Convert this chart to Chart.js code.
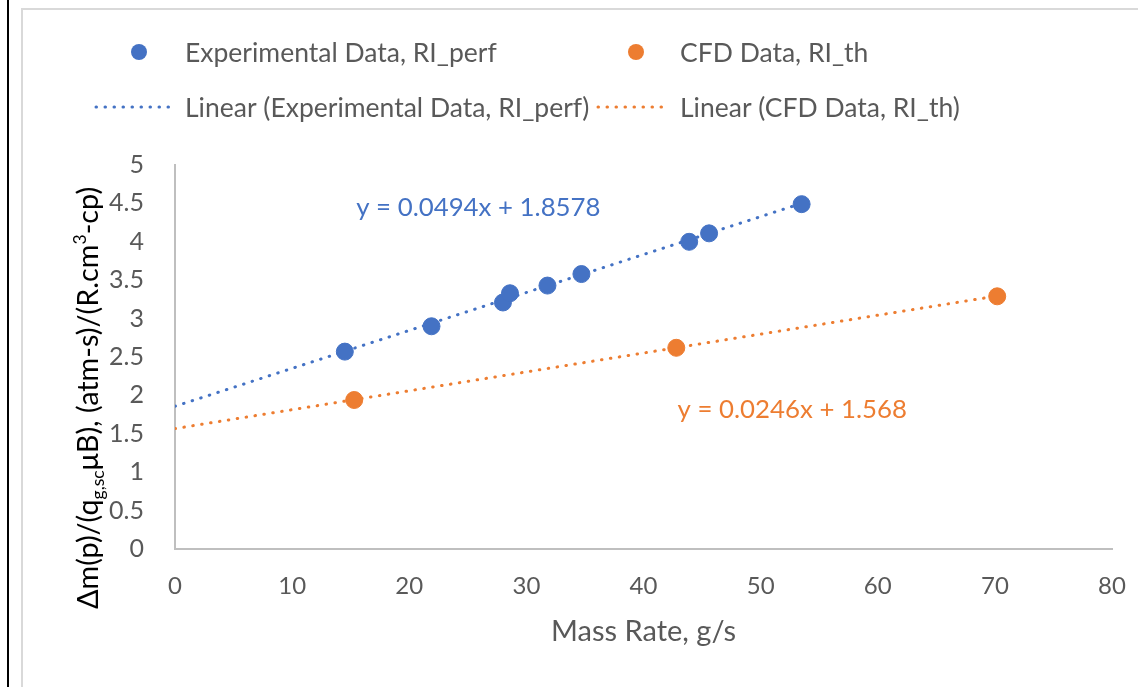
<!DOCTYPE html>
<html>
  <head>
    <title>Mass Rate chart</title>
    <script src="https://cdn.jsdelivr.net/npm/chart.js"></script>
    <style>
      body {
        margin: 0;
        background: #ffffff;
      }
      #wrap {
        position: relative;
        width: 1138px;
        height: 687px;
      }
      /* outer frame lines */
      .frame-black {
        position: absolute;
        left: 7px;
        top: 0;
        width: 2px;
        height: 687px;
        background: #000;
      }
      .frame-gray-v {
        position: absolute;
        left: 21px;
        top: 8px;
        width: 2px;
        height: 679px;
        background: #d9d9d9;
      }
      .frame-gray-h {
        position: absolute;
        left: 21px;
        top: 8px;
        width: 1117px;
        height: 2px;
        background: #d9d9d9;
      }
      canvas {
        position: absolute;
        left: 0;
        top: 0;
      }
    </style>
  </head>
  <body>
    <div id="wrap">
      <canvas id="massChart" width="1138" height="687"></canvas>
      <div class="frame-black"></div>
      <div class="frame-gray-v"></div>
      <div class="frame-gray-h"></div>
    </div>
    <script>
      // data
      var expX = [14.5, 21.9, 28.0, 28.6, 31.8, 34.7, 43.9, 45.6, 53.5];
      var expY = [2.57, 2.90, 3.21, 3.33, 3.43, 3.58, 4.00, 4.11, 4.49];
      var cfdX = [15.3, 42.8, 70.2];
      var cfdY = [1.94, 2.62, 3.29];
      // trendline end points (Excel linear fits)
      var expTrendX = [0, 53.5];
      var expTrendY = [1.858, 4.501];
      var cfdTrendX = [0, 70.2];
      var cfdTrendY = [1.568, 3.295];
      var seriesNames = ['Experimental Data, RI_perf', 'CFD Data, RI_th',
        'Linear (Experimental Data, RI_perf)', 'Linear (CFD Data, RI_th)'];
      var equations = ['y = 0.0494x + 1.8578', 'y = 0.0246x + 1.568'];
      var xTicks = [0, 10, 20, 30, 40, 50, 60, 70, 80];
      var yTicks = [0, 0.5, 1, 1.5, 2, 2.5, 3, 3.5, 4, 4.5, 5];

      var BLUE = '#4472C4', ORANGE = '#ED7D31', TEXT = '#595959';
      var FONT = 'Lato';

      function pairs(xs, ys) {
        return xs.map(function(x, i) { return {x: x, y: ys[i]}; });
      }

      function dottedLine(ctx, x1, y1, x2, y2, color) {
        ctx.save();
        ctx.strokeStyle = color;
        ctx.lineWidth = 3;
        ctx.lineCap = 'round';
        ctx.setLineDash([0.5, 8.5]);
        ctx.beginPath();
        ctx.moveTo(x1, y1);
        ctx.lineTo(x2, y2);
        ctx.stroke();
        ctx.restore();
      }

      // legend, equations and y title drawn by hand
      var extras = {
        id: 'extras',
        afterDraw: function(chart) {
          var ctx = chart.ctx;
          var xs = chart.scales.x, ys = chart.scales.y;
          ctx.save();
          ctx.font = '26.5px ' + FONT;
          ctx.textBaseline = 'middle';
          ctx.textAlign = 'left';
          // row 1: markers
          ctx.fillStyle = BLUE;
          ctx.beginPath(); ctx.arc(139, 52, 8, 0, Math.PI * 2); ctx.fill();
          ctx.fillStyle = ORANGE;
          ctx.beginPath(); ctx.arc(636, 52, 8, 0, Math.PI * 2); ctx.fill();
          ctx.fillStyle = TEXT;
          ctx.fillText(seriesNames[0], 185, 53);
          ctx.fillText(seriesNames[1], 680, 53);
          // row 2: trendlines
          dottedLine(ctx, 96, 107, 172, 107, BLUE);
          dottedLine(ctx, 598, 107, 668, 107, ORANGE);
          ctx.fillText(seriesNames[2], 185, 108);
          ctx.fillText(seriesNames[3], 680, 108);

          // trendline equations
          ctx.font = '25.8px ' + FONT;
          ctx.textAlign = 'center';
          ctx.fillStyle = BLUE;
          ctx.fillText(equations[0], xs.getPixelForValue(25.9), ys.getPixelForValue(4.44));
          ctx.fillStyle = ORANGE;
          ctx.fillText(equations[1], xs.getPixelForValue(52.7), ys.getPixelForValue(1.81));

          // y axis title with sub and superscript
          var parts = [
            ['Δm(p)/(q', 0], ['g,sc', 1], ['μB), (atm-s)/(R.cm', 0], ['3', -1], ['-cp)', 0]
          ];
          var big = '28.8px ' + FONT, small = '17.5px ' + FONT;
          var total = 0;
          parts.forEach(function(p) {
            ctx.font = p[1] !== 0 ? small : big;
            total += ctx.measureText(p[0]).width;
          });
          ctx.translate(89, 398);
          ctx.rotate(-Math.PI / 2);
          ctx.fillStyle = '#000';
          ctx.textAlign = 'left';
          var pos = -total / 2;
          parts.forEach(function(p) {
            ctx.font = p[1] !== 0 ? small : big;
            ctx.fillText(p[0], pos, p[1] * 9);
            pos += ctx.measureText(p[0]).width;
          });
          ctx.restore();
        }
      };

      new Chart(document.getElementById('massChart'), {
        type: 'scatter',
        data: {
          datasets: [{
            label: seriesNames[0],
            data: pairs(expX, expY),
            backgroundColor: BLUE,
            borderColor: BLUE,
            pointRadius: 8.5,
            order: 1
          }, {
            label: seriesNames[1],
            data: pairs(cfdX, cfdY),
            backgroundColor: ORANGE,
            borderColor: ORANGE,
            pointRadius: 8.5,
            order: 1
          }, {
            label: seriesNames[2],
            type: 'line',
            data: pairs(expTrendX, expTrendY),
            borderColor: BLUE,
            borderWidth: 3,
            borderDash: [0.5, 8.5],
            borderCapStyle: 'round',
            pointRadius: 0,
            fill: false,
            order: 2
          }, {
            label: seriesNames[3],
            type: 'line',
            data: pairs(cfdTrendX, cfdTrendY),
            borderColor: ORANGE,
            borderWidth: 3,
            borderDash: [0.5, 8.5],
            borderCapStyle: 'round',
            pointRadius: 0,
            fill: false,
            order: 2
          }]
        },
        options: {
          responsive: false,
          animation: false,
          layout: {
            autoPadding: false,
            padding: {left: 0, top: 165, right: 26, bottom: 0}
          },
          plugins: {
            legend: {display: false},
            tooltip: {enabled: false}
          },
          scales: {
            x: {
              type: 'linear',
              min: 0,
              max: 80,
              afterBuildTicks: function(s) { s.ticks = xTicks.map(function(v) { return {value: v}; }); },
              afterFit: function(s) {
                s.height = 138;
                s.paddingLeft = 0;
                s.paddingRight = 0;
              },
              grid: {display: false, drawTicks: false},
              border: {display: true, color: '#bfbfbf', width: 2},
              ticks: {
                color: TEXT,
                font: {family: FONT, size: 24},
                padding: 23,
                maxRotation: 0,
                callback: function(v) { return String(v); }
              },
              title: {
                display: true,
                text: 'Mass Rate, g/s',
                color: TEXT,
                font: {family: FONT, size: 29},
                padding: {top: 0, bottom: 38}
              }
            },
            y: {
              min: 0,
              max: 5,
              afterBuildTicks: function(s) { s.ticks = yTicks.map(function(v) { return {value: v}; }); },
              afterFit: function(s) {
                s.width = 175;
                s.paddingTop = 0;
                s.paddingBottom = 0;
              },
              grid: {display: false, drawTicks: false},
              border: {display: true, color: '#bfbfbf', width: 2},
              ticks: {
                color: TEXT,
                font: {family: FONT, size: 25},
                padding: 31,
                callback: function(v) { return String(v); }
              }
            }
          }
        },
        plugins: [extras]
      });
    </script>
  </body>
</html>
